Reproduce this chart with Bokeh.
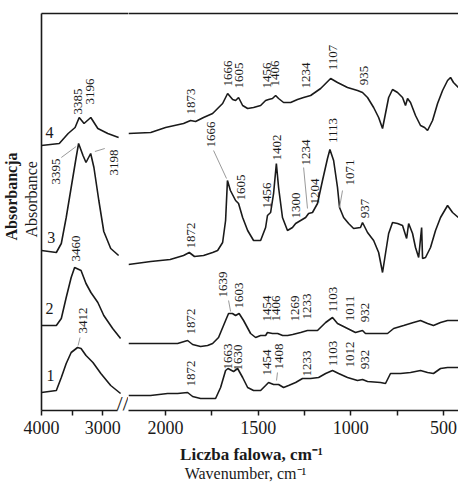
import math
from bokeh.plotting import figure
from bokeh.models import Range1d, LinearAxis, FixedTicker, Label, ColumnDataSource, Title
from bokeh.layouts import row, column
from bokeh.embed import file_html
from bokeh.resources import INLINE
from bokeh.core.properties import value

# ---------------- data (wavenumber cm-1, absorbance in arbitrary stacked units) -------------
s1_left = [(4000, 18), (3758, 20), (3677, 33), (3597, 47), (3516, 58), (3412, 63), (3355, 62),
           (3274, 55), (3161, 48), (3032, 37), (2871, 25), (2710, 17)]
s2_left = [(4000, 85), (3758, 85), (3677, 92), (3597, 113), (3516, 133), (3460, 143), (3355, 140),
           (3274, 127), (3194, 118), (3081, 108), (2984, 95), (2839, 82), (2710, 72)]
s3_left = [(4000, 160), (3758, 158), (3677, 167), (3597, 193), (3516, 223), (3435, 253), (3395, 267),
           (3323, 255), (3274, 248), (3198, 257), (3145, 243), (3065, 210), (2984, 179), (2871, 162),
           (2742, 155)]
s4_left = [(4000, 265), (3710, 267), (3565, 277), (3452, 283), (3385, 293), (3306, 287), (3196, 293),
           (3081, 282), (2919, 277), (2742, 273)]

s1_right = [(2200, 15), (2081, 15), (1989, 17), (1935, 17), (1881, 18), (1854, 14), (1811, 12),
            (1768, 12), (1730, 12), (1703, 23), (1676, 40), (1663, 42), (1633, 39), (1611, 42),
            (1584, 33), (1557, 23), (1525, 20), (1487, 20), (1460, 25), (1444, 28), (1417, 26),
            (1390, 26), (1363, 23), (1336, 25), (1298, 28), (1261, 32), (1228, 32), (1217, 32),
            (1174, 33), (1136, 37), (1099, 40), (1066, 37), (1018, 33), (964, 30), (937, 31),
            (910, 29), (840, 28), (813, 27), (786, 37), (732, 37), (678, 38), (624, 40), (586, 38),
            (554, 37), (516, 42), (478, 43), (420, 43)]
s2_right = [(2200, 67), (2080, 67), (2000, 67), (1935, 67), (1881, 70), (1854, 66), (1811, 64),
            (1773, 65), (1746, 67), (1714, 73), (1676, 90), (1660, 97), (1639, 97), (1622, 95),
            (1603, 97), (1579, 90), (1541, 77), (1514, 73), (1487, 75), (1460, 75), (1450, 78),
            (1423, 77), (1395, 77), (1368, 75), (1341, 75), (1314, 76), (1271, 78), (1234, 80),
            (1180, 80), (1136, 88), (1099, 93), (1072, 87), (1018, 82), (975, 78), (937, 80),
            (921, 77), (840, 77), (802, 77), (769, 82), (715, 85), (662, 88), (624, 90), (586, 87),
            (554, 85), (516, 88), (478, 90), (420, 90)]
s3_right = [(2200, 146), (2080, 149), (1975, 151), (1903, 155), (1872, 158), (1844, 154), (1795, 155),
            (1746, 158), (1719, 160), (1692, 168), (1676, 190), (1666, 230), (1650, 220), (1622, 210),
            (1606, 207), (1584, 193), (1557, 180), (1525, 170), (1487, 170), (1460, 183), (1450, 195),
            (1433, 198), (1417, 217), (1402, 247), (1390, 223), (1369, 193), (1342, 180), (1315, 183),
            (1298, 187), (1271, 190), (1244, 193), (1228, 197), (1207, 198), (1180, 207), (1153, 230),
            (1126, 252), (1113, 261), (1093, 250), (1072, 223), (1061, 203), (1039, 193), (1012, 187),
            (985, 182), (948, 183), (937, 188), (910, 178), (877, 170), (850, 158), (829, 138),
            (813, 157), (796, 177), (775, 188), (748, 187), (721, 185), (699, 172), (688, 187),
            (667, 177), (651, 163), (634, 153), (618, 183), (613, 152), (597, 153), (570, 163),
            (543, 180), (516, 193), (478, 205), (451, 198), (420, 193)]
s4_right = [(2200, 277), (2080, 278), (2000, 283), (1903, 287), (1865, 290), (1838, 289), (1795, 293),
            (1746, 297), (1719, 302), (1692, 307), (1665, 317), (1638, 311), (1622, 310), (1606, 313),
            (1584, 305), (1557, 302), (1525, 303), (1487, 305), (1460, 310), (1444, 311), (1423, 312),
            (1406, 315), (1390, 312), (1363, 308), (1325, 308), (1288, 311), (1255, 313), (1217, 315),
            (1163, 322), (1109, 332), (1072, 328), (1018, 323), (964, 320), (937, 318), (910, 313),
            (877, 303), (850, 293), (829, 282), (813, 297), (796, 313), (775, 321), (748, 318),
            (721, 313), (705, 305), (694, 312), (678, 308), (651, 295), (624, 285), (602, 283),
            (586, 280), (559, 290), (532, 307), (505, 320), (478, 330), (462, 333), (446, 328),
            (420, 323)]

# peak annotations: (text, x position in cm-1, y position)
peaks_left = [("3385", 3403, 309), ("3196", 3210, 319), ("3395", 3758, 239), ("3198", 2823, 248),
              ("3460", 3435, 162), ("3412", 3323, 90)]
peaks_right = [("1873", 1865, 309), ("1666", 1663, 337), ("1605", 1606, 335), ("1456", 1455, 335),
               ("1406", 1409, 337), ("1234", 1244, 335), ("1107", 1099, 353), ("935", 929, 335),
               ("1872", 1865, 175), ("1666", 1757, 276), ("1605", 1595, 223), ("1456", 1455, 215),
               ("1402", 1401, 263), ("1300", 1298, 205), ("1234", 1244, 258), ("1204", 1196, 219),
               ("1113", 1099, 280), ("1071", 1002, 238), ("937", 926, 202),
               ("1872", 1865, 89), ("1639", 1692, 126), ("1603", 1601, 115), ("1454", 1450, 102),
               ("1406", 1406, 102), ("1269", 1304, 102), ("1233", 1239, 104), ("1103", 1099, 111),
               ("1011", 1002, 102), ("932", 921, 98),
               ("1872", 1865, 37), ("1663", 1665, 54), ("1630", 1611, 53), ("1454", 1455, 48),
               ("1408", 1390, 54), ("1233", 1234, 47), ("1103", 1099, 57), ("1012", 1002, 56),
               ("932", 921, 51)]
leaders_left = [(3677, 253, 3435, 264), (3129, 259, 2968, 262), (3371, 73, 3403, 65)]
leaders_right = [(1741, 260, 1671, 232), (1255, 243, 1234, 202), (1045, 220, 1061, 203),
                 (1660, 110, 1649, 99), (1396, 38, 1401, 30)]
curve_names = [("1", 3855, 35), ("2", 3871, 102), ("3", 3839, 173), ("4", 3871, 278)]

x_ticks_left = [4000, 3000]
x_minor_left = [3500]
x_ticks_right = [2000, 1500, 1000, 500]
x_minor_right = [1750, 1250, 750]

x_titles = ["Liczba falowa, cm\u207b\u00b9", "Wavenumber, cm\u207b\u00b9"]
y_titles = ["Absorbancja", "Absorbance"]

FONT = "Liberation Serif"
INK = "#1a1a1a"
H = 441          # height of the two plot panels
TH = 42          # height of the strip holding the x-axis titles


def make(width, xr, left_border):
    p = figure(width=width, height=H, x_range=Range1d(*xr), y_range=Range1d(0, 397),
               output_backend="svg", toolbar_location=None,
               x_axis_location=None, y_axis_location=None,
               min_border_left=left_border, min_border_right=0,
               min_border_top=13, min_border_bottom=31)
    p.outline_line_color = None
    p.grid.grid_line_color = None
    p.background_fill_color = "white"
    p.border_fill_color = "white"
    top = LinearAxis(ticker=FixedTicker(ticks=[]), axis_line_color=INK, axis_line_width=1.6,
                     major_tick_line_color=None, minor_tick_line_color=None,
                     major_tick_in=0, major_tick_out=0, minor_tick_in=0, minor_tick_out=0,
                     major_label_text_font_size="0px", major_label_standoff=0)
    p.add_layout(top, "above")
    return p


def bottom_axis(ticks, minor, bounds="auto"):
    return LinearAxis(ticker=FixedTicker(ticks=ticks, minor_ticks=minor), bounds=bounds,
                      axis_line_color=INK, axis_line_width=1.6,
                      major_tick_line_color=INK, major_tick_line_width=1.5,
                      minor_tick_line_color=INK, minor_tick_line_width=1.5,
                      major_tick_in=0, major_tick_out=5, minor_tick_in=0, minor_tick_out=5,
                      major_label_text_font=FONT, major_label_text_font_size="18px",
                      major_label_text_color=INK, major_label_standoff=5)


def draw(p, curves, peaks, leaders):
    for c in curves:
        p.line([a for a, b in c], [b for a, b in c], line_color=INK, line_width=1.6)
    src = ColumnDataSource(dict(x=[q[1] for q in peaks], y=[q[2] for q in peaks], t=[q[0] for q in peaks]))
    p.text(x="x", y="y", text="t", source=src, angle=math.pi / 2, text_align="center",
           text_baseline="middle", text_font=value(FONT), text_font_size="13px", text_color=INK)
    p.segment(x0=[l[0] for l in leaders], y0=[l[1] for l in leaders],
              x1=[l[2] for l in leaders], y1=[l[3] for l in leaders],
              line_color="#9a9a9a", line_width=1)


# left panel (4000-2700 cm-1)
left = make(128, (4000, 2581), 40)
left.add_layout(bottom_axis(x_ticks_left, x_minor_left, (4000, 2760)), "below")
left.add_layout(LinearAxis(ticker=FixedTicker(ticks=[]), axis_line_color=INK, axis_line_width=1.6,
                           major_tick_line_color=None, minor_tick_line_color=None,
                           major_tick_in=0, major_tick_out=0, minor_tick_in=0, minor_tick_out=0,
                           major_label_text_font_size="0px", major_label_standoff=0), "left")
left.add_layout(Title(text=y_titles[1], align="left", offset=173, standoff=3,
                      text_font=FONT, text_font_size="16px", text_font_style="normal",
                      text_line_height=1.0, text_color=INK), "left")
left.add_layout(Title(text=y_titles[0], align="left", offset=170, standoff=0,
                      text_font=FONT, text_font_size="16px", text_font_style="bold",
                      text_line_height=1.0, text_color=INK), "left")
draw(left, [s1_left, s2_left, s3_left, s4_left], peaks_left, leaders_left)
nsrc = ColumnDataSource(dict(x=[c[1] for c in curve_names], y=[c[2] for c in curve_names],
                             t=[c[0] for c in curve_names]))
left.text(x="x", y="y", text="t", source=nsrc, text_align="center", text_baseline="middle",
          text_font=value(FONT), text_font_size="16px", text_color=INK)
left.add_layout(Label(x=2677, y=7, text="//", text_align="center", text_baseline="middle",
                      text_font=FONT, text_font_size="22px", text_color=INK))

# right panel (2200-420 cm-1)
right = make(330, (2200, 419), 0)
right.add_layout(bottom_axis(x_ticks_right, x_minor_right), "below")
draw(right, [s1_right, s2_right, s3_right, s4_right], peaks_right, leaders_right)

# strip with the two x-axis titles (coordinates in pixels of the strip)
strip = figure(width=458, height=TH, x_range=Range1d(0, 458), y_range=Range1d(0, TH),
               output_backend="svg", toolbar_location=None,
               x_axis_location=None, y_axis_location=None,
               min_border_left=0, min_border_right=0, min_border_top=0, min_border_bottom=0)
strip.outline_line_color = None
strip.grid.grid_line_color = None
strip.text(x=[251], y=[TH - 13], text=[x_titles[0]], text_align="center", text_baseline="middle",
           text_font=value(FONT), text_font_size="17px", text_font_style="bold", text_color=INK)
strip.text(x=[245], y=[TH - 32], text=[x_titles[1]], text_align="center", text_baseline="middle",
           text_font=value(FONT), text_font_size="16px", text_color=INK)

layout = column(row(left, right), strip)
open("out.html", "w").write(file_html(layout, INLINE))
